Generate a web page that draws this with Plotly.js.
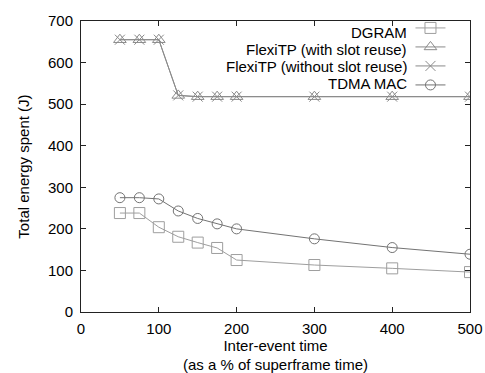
<!DOCTYPE html>
<html>
<head>
<meta charset="utf-8">
<script src="https://cdn.plot.ly/plotly-3.0.1.min.js"></script>
<style>html,body{margin:0;padding:0;background:#fff;}#chart{width:485px;height:373px;}</style>
</head>
<body>
<div id="chart"></div>
<script>
const interEvent = [50, 75, 100, 125, 150, 175, 200, 300, 400, 500];
const dgram = [238, 238, 204, 181, 167, 154, 125, 113, 105, 96];
const flexiWithReuse = [655, 655, 655, 521, 518, 518, 518, 518, 518, 518];
const flexiWithoutReuse = [655, 655, 655, 521, 518, 518, 518, 518, 518, 518];
const tdma = [275, 275, 272, 243, 225, 212, 200, 176, 155, 139];
const seriesNames = ["DGRAM", "FlexiTP (with slot reuse)", "FlexiTP (without slot reuse)", "TDMA MAC"];
const xTicks = [0, 100, 200, 300, 400, 500];
const yTicks = [0, 100, 200, 300, 400, 500, 600, 700];

const font = "Liberation Sans, Arial, Helvetica, sans-serif";
function mk(y, sym, color, size) {
  return {
    x: interEvent, y: y, type: "scatter", mode: "lines+markers", name: " ",
    line: {color: color, width: 1},
    marker: {symbol: sym, size: size, color: color, line: {color: color, width: 1}}
  };
}
const data = [
  mk(dgram, "square-open", "#9e9e9e", 11),
  mk(flexiWithReuse, "triangle-up-open", "#8a8a8a", 11),
  mk(flexiWithoutReuse, "x-thin-open", "#8a8a8a", 10),
  mk(tdma, "circle-open", "#737373", 10)
];
const legendRowsY = [0.962, 0.903, 0.844, 0.784];
const annotations = seriesNames.map((n, i) => ({
  text: n, xref: "paper", yref: "paper", x: 0.842, y: legendRowsY[i],
  xanchor: "right", yanchor: "middle", showarrow: false,
  font: {family: font, size: 15, color: "#000"}
}));
const layout = {
  width: 485, height: 373,
  margin: {l: 81, r: 15, t: 21, b: 61},
  paper_bgcolor: "#fff", plot_bgcolor: "#fff",
  font: {family: font, size: 15, color: "#000"},
  showlegend: true,
  legend: {x: 0.847, y: 1.026, xanchor: "left", yanchor: "top", bgcolor: "rgba(0,0,0,0)",
           font: {family: font, size: 9}, itemwidth: 30, tracegroupgap: 0},
  xaxis: {
    range: [0, 500], tickvals: xTicks, ticktext: xTicks.map(String),
    ticks: "inside", ticklen: 5, tickcolor: "#222", mirror: "ticks",
    showline: true, linecolor: "#222", linewidth: 1, showgrid: false, zeroline: false,
    tickfont: {size: 15}, ticklabelstandoff: 3,
    title: {text: "Inter-event time<br>(as a % of superframe time)", font: {size: 15}, standoff: 14}
  },
  yaxis: {
    range: [0, 700], tickvals: yTicks, ticktext: yTicks.map(String),
    ticks: "inside", ticklen: 5, tickcolor: "#222", mirror: "ticks",
    showline: true, linecolor: "#222", linewidth: 1, showgrid: false, zeroline: false,
    tickfont: {size: 15}, ticklabelstandoff: 4,
    title: {text: "Total energy spent (J)", font: {size: 15}, standoff: 14}
  },
  annotations: annotations
};
Plotly.newPlot("chart", data, layout, {displayModeBar: false, staticPlot: true});
</script>
</body>
</html>
